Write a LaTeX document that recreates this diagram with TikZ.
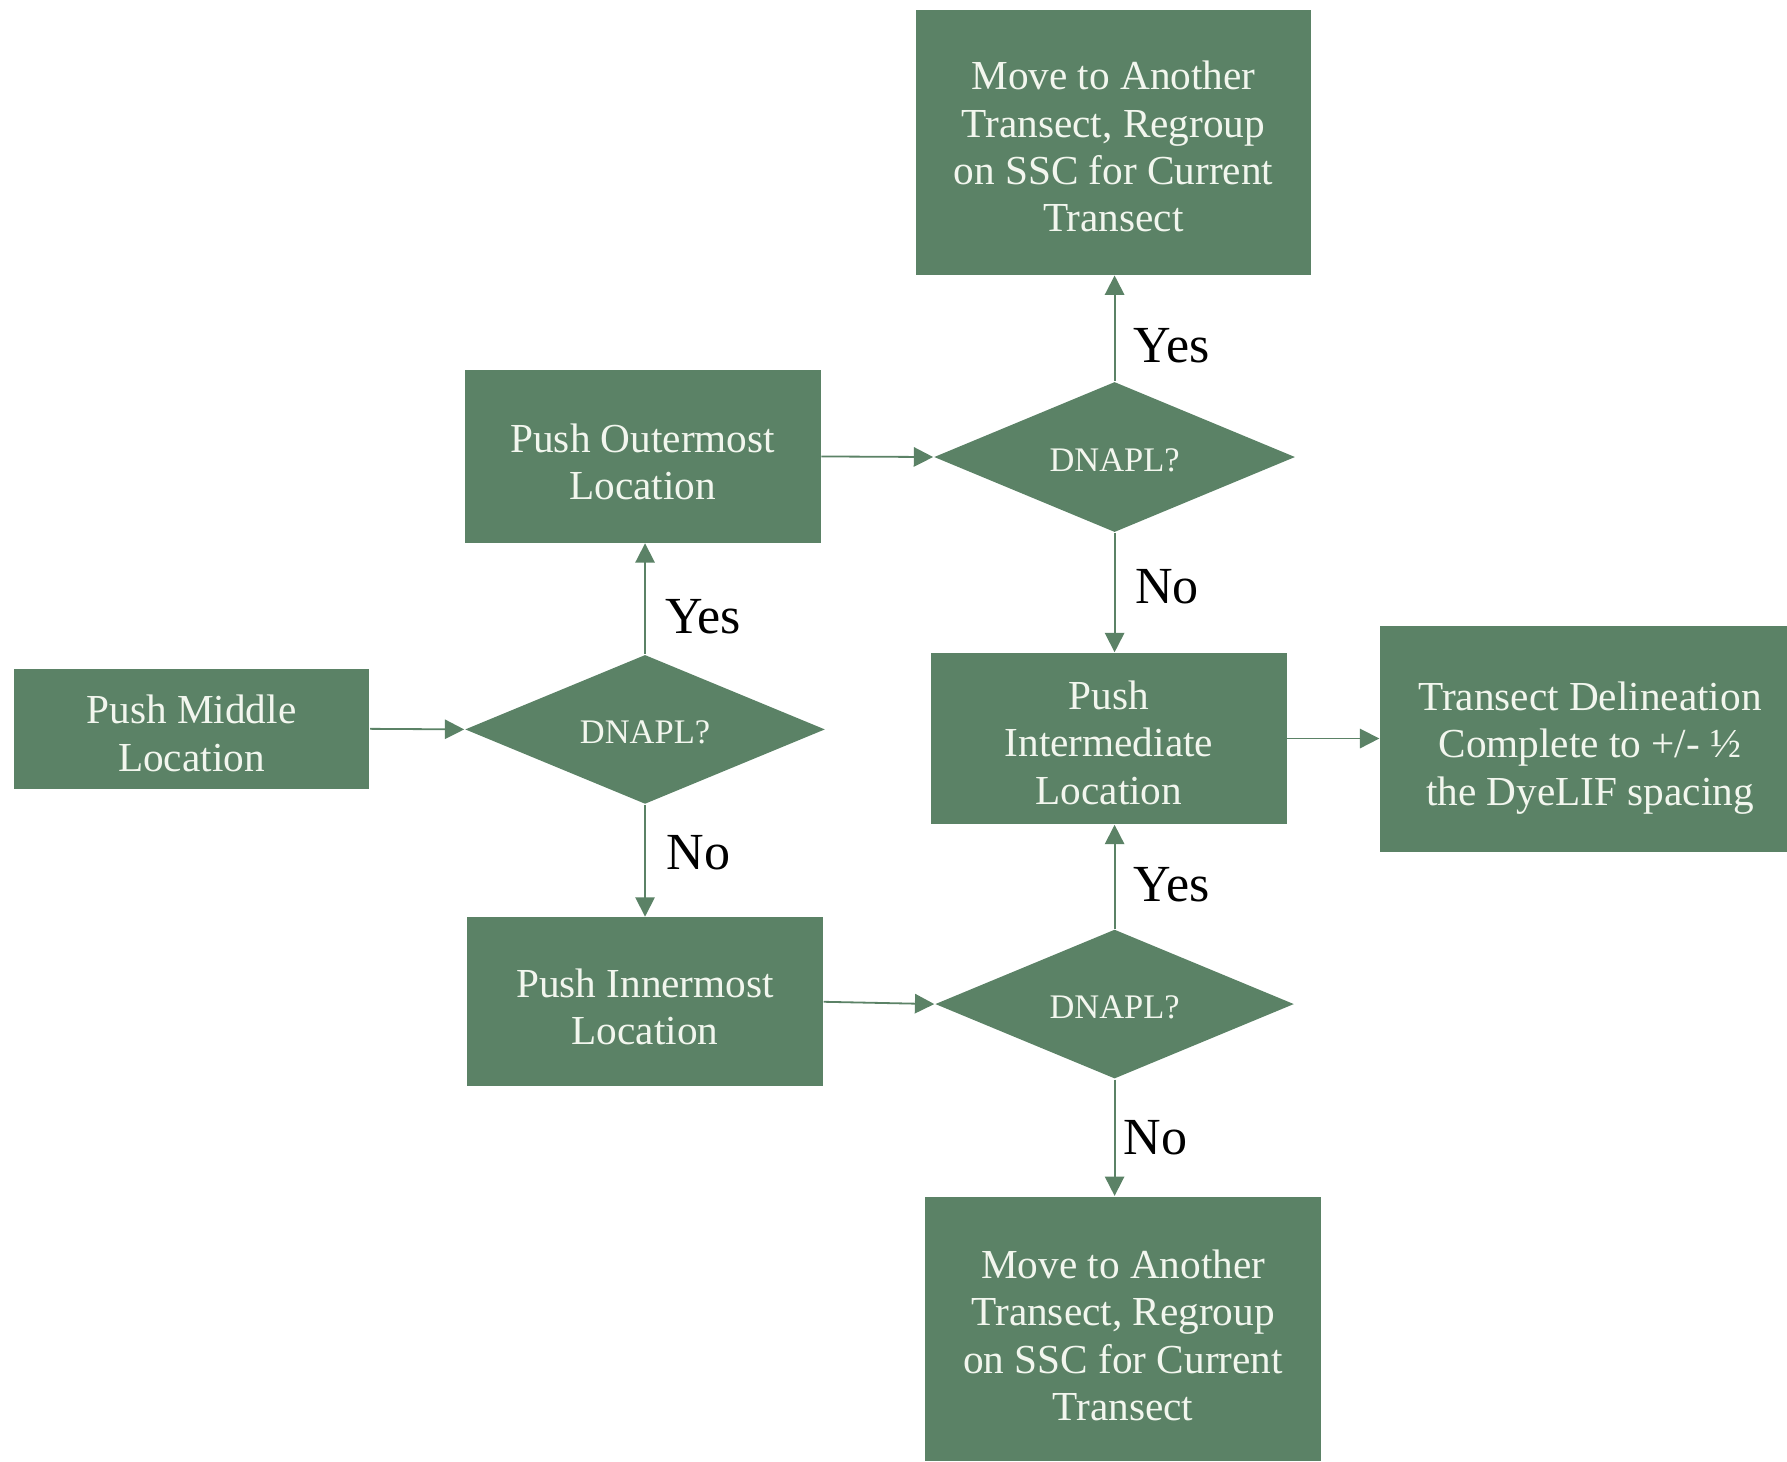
\documentclass[tikz,border=0pt]{standalone}
\usepackage{fontspec}
\setmainfont{Liberation Serif}
\usetikzlibrary{shapes.geometric,arrows.meta}
\definecolor{grn}{RGB}{91,130,102}
\definecolor{txt}{RGB}{242,246,238}
\newcommand{\mylow}[2]{\raisebox{-#1}[\height][\depth]{\begin{tabular}{@{}c@{}}#2\end{tabular}}}
\begin{document}
\begin{tikzpicture}[x=0.1mm,y=-0.1mm,
 box/.style={rectangle,fill=grn,draw=none,text=txt,font=\fontsize{10.3}{11.8}\selectfont,inner sep=0pt},
 dia/.style={diamond,aspect=2.4,fill=grn,draw=none,text=txt,font=\fontsize{8.6}{10}\selectfont,inner sep=0pt},
 conn/.style={draw=grn,line width=0.45pt,-{Triangle[length=1.7mm,width=1.7mm]}},
 lbl/.style={font=\fontsize{13}{15}\selectfont,text=black}]
\useasboundingbox (0,0) rectangle (1568,1282);
\node[box,minimum width=34.6mm,minimum height=23.2mm] (top) at (977,125) {\mylow{2.2pt}{Move to Another\\Transect, Regroup\\on SSC for Current\\Transect}};
\node[box,minimum width=31.2mm,minimum height=15.1mm] (outer) at (564,400.5) {\mylow{2.5pt}{Push Outermost\\Location}};
\node[dia,minimum width=31.7mm,minimum height=13.2mm] (d1) at (978,401) {\mylow{1.5pt}{DNAPL?}};
\node[box,minimum width=31.2mm,minimum height=10.5mm] (middle) at (168,639.5) {\mylow{2.3pt}{Push Middle\\Location}};
\node[dia,minimum width=31.6mm,minimum height=13.1mm] (d2) at (566,640) {\mylow{1.5pt}{DNAPL?}};
\node[box,minimum width=31.2mm,minimum height=15mm] (inter) at (973,648) {\mylow{2.2pt}{Push\\Intermediate\\Location}};
\node[box,minimum width=35.7mm,minimum height=19.9mm] (trans) at (1389.5,648.5) {\hspace*{3.2pt}\mylow{2.3pt}{Transect Delineation\\Complete to +/- ½\\the DyeLIF spacing}};
\node[box,minimum width=31.2mm,minimum height=14.8mm] (inner) at (566,879) {\mylow{2.4pt}{Push Innermost\\Location}};
\node[dia,minimum width=31.5mm,minimum height=13.1mm] (d3) at (978,881) {\mylow{1.5pt}{DNAPL?}};
\node[box,minimum width=34.7mm,minimum height=23.2mm] (bottom) at (985.5,1166) {\mylow{2.8pt}{Move to Another\\Transect, Regroup\\on SSC for Current\\Transect}};
\draw[conn] (outer.east) -- (d1.west);
\draw[conn] (middle.east) -- (d2.west);
\draw[conn] (d2.north) -- (d2.north |- outer.south);
\draw[conn] (d2.south) -- (d2.south |- inner.north);
\draw[conn] (d1.north) -- (d1.north |- top.south);
\draw[conn] (d1.south) -- (d1.south |- inter.north);
\draw[conn] (d3.north) -- (d3.north |- inter.south);
\draw[conn] (d3.south) -- (d3.south |- bottom.north);
\draw[conn] (inner.east) -- (d3.west);
\draw[conn] (inter.east) -- (trans.west |- inter.east);
\node[lbl] (y1) at (1028,303) {Yes};
\node[lbl] (n1) at (1024,515) {No};
\node[lbl] (y2) at (617,541) {Yes};
\node[lbl] (n2) at (613,748) {No};
\node[lbl] (y3) at (1028,776) {Yes};
\node[lbl] (n3) at (1014,998) {No};
\end{tikzpicture}
\end{document}
